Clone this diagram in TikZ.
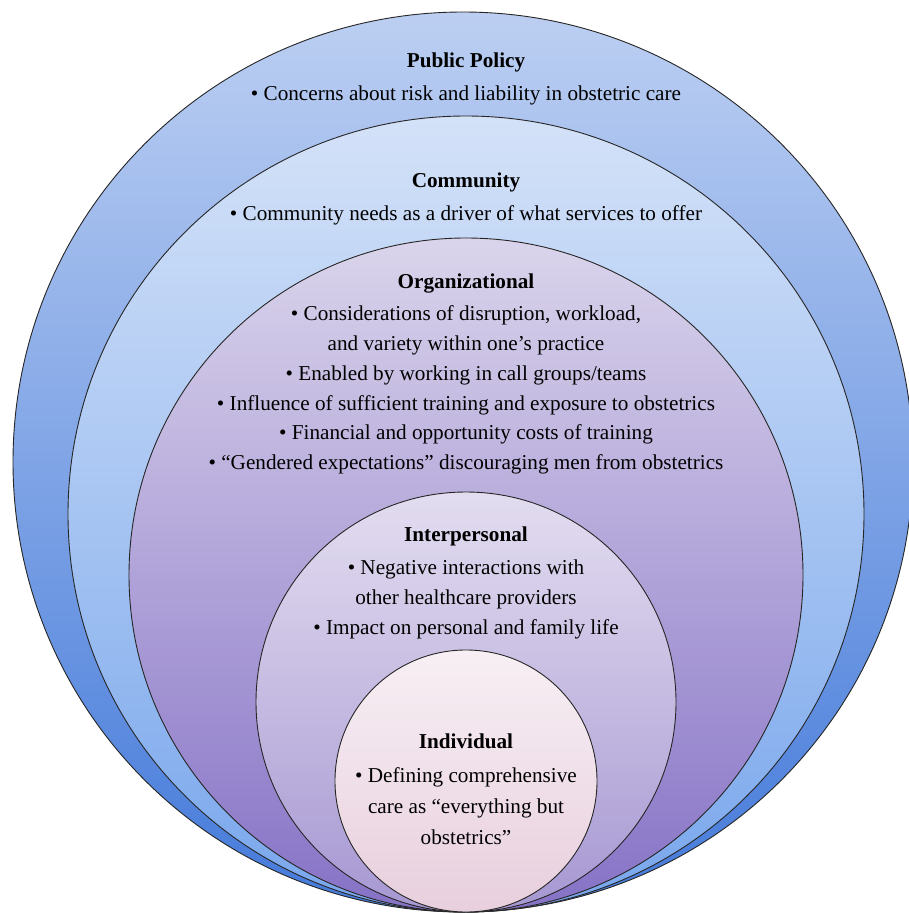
\documentclass[tikz,border=0pt]{standalone}
\usepackage{fontspec}
\setmainfont{Liberation Serif}
\usepackage{xcolor}

\definecolor{policytop}{RGB}{188,207,242}
\definecolor{policybot}{RGB}{68,122,218}
\definecolor{commtop}{RGB}{212,226,248}
\definecolor{commbot}{RGB}{120,166,236}
\definecolor{orgtop}{RGB}{218,212,235}
\definecolor{orgbot}{RGB}{134,114,198}
\definecolor{intertop}{RGB}{227,221,240}
\definecolor{interbot}{RGB}{166,151,210}
\definecolor{indivtop}{RGB}{247,239,244}
\definecolor{indivbot}{RGB}{232,207,221}

\begin{document}
\begin{tikzpicture}[x=1pt, y=-1pt,
  ring/.style={draw=black!85, line width=0.9pt, circle, inner sep=0pt},
  words/.style={align=center, inner sep=0pt, anchor=north, font=\fontsize{21.2}{29.8}\selectfont}]

\clip (0,0) rectangle (909,913);
\fill[white] (0,0) rectangle (909,913);

\node[ring, minimum size=900pt, top color=policytop, bottom color=policybot] (1) at (463,462) {};
\node[ring, minimum size=796pt, top color=commtop, bottom color=commbot] (2) at (466,514) {};
\node[ring, minimum size=674pt, top color=orgtop, bottom color=orgbot] (3) at (466,575) {};
\node[ring, minimum size=420pt, top color=intertop, bottom color=interbot] (4) at (466,702) {};
\node[ring, minimum size=262pt, top color=indivtop, bottom color=indivbot] (5) at (466,781) {};

\node[words] (l1) at (466,53) {\textbf{Public Policy}\\[3pt]
  • Concerns about risk and liability in obstetric care};
\node[words] (l2) at (466,173) {\textbf{Community}\\[3pt]
  • Community needs as a driver of what services to offer};
\node[words] (l3) at (466,274) {\textbf{Organizational}\\[2pt]
  • Considerations of disruption, workload,\\
  and variety within one’s practice\\
  • Enabled by working in call groups/teams\\
  • Influence of sufficient training and exposure to obstetrics\\
  • Financial and opportunity costs of training\\
  • “Gendered expectations” discouraging men from obstetrics};
\node[words] (l4) at (466,527) {\textbf{Interpersonal}\\[3pt]
  • Negative interactions with\\
  other healthcare providers\\
  • Impact on personal and family life};
\node[words] (l5) at (466,734) {\textbf{Individual}\\[4pt]
  • Defining comprehensive\\[1pt]
  care as “everything but\\[1pt]
  obstetrics”};

\end{tikzpicture}
\end{document}
